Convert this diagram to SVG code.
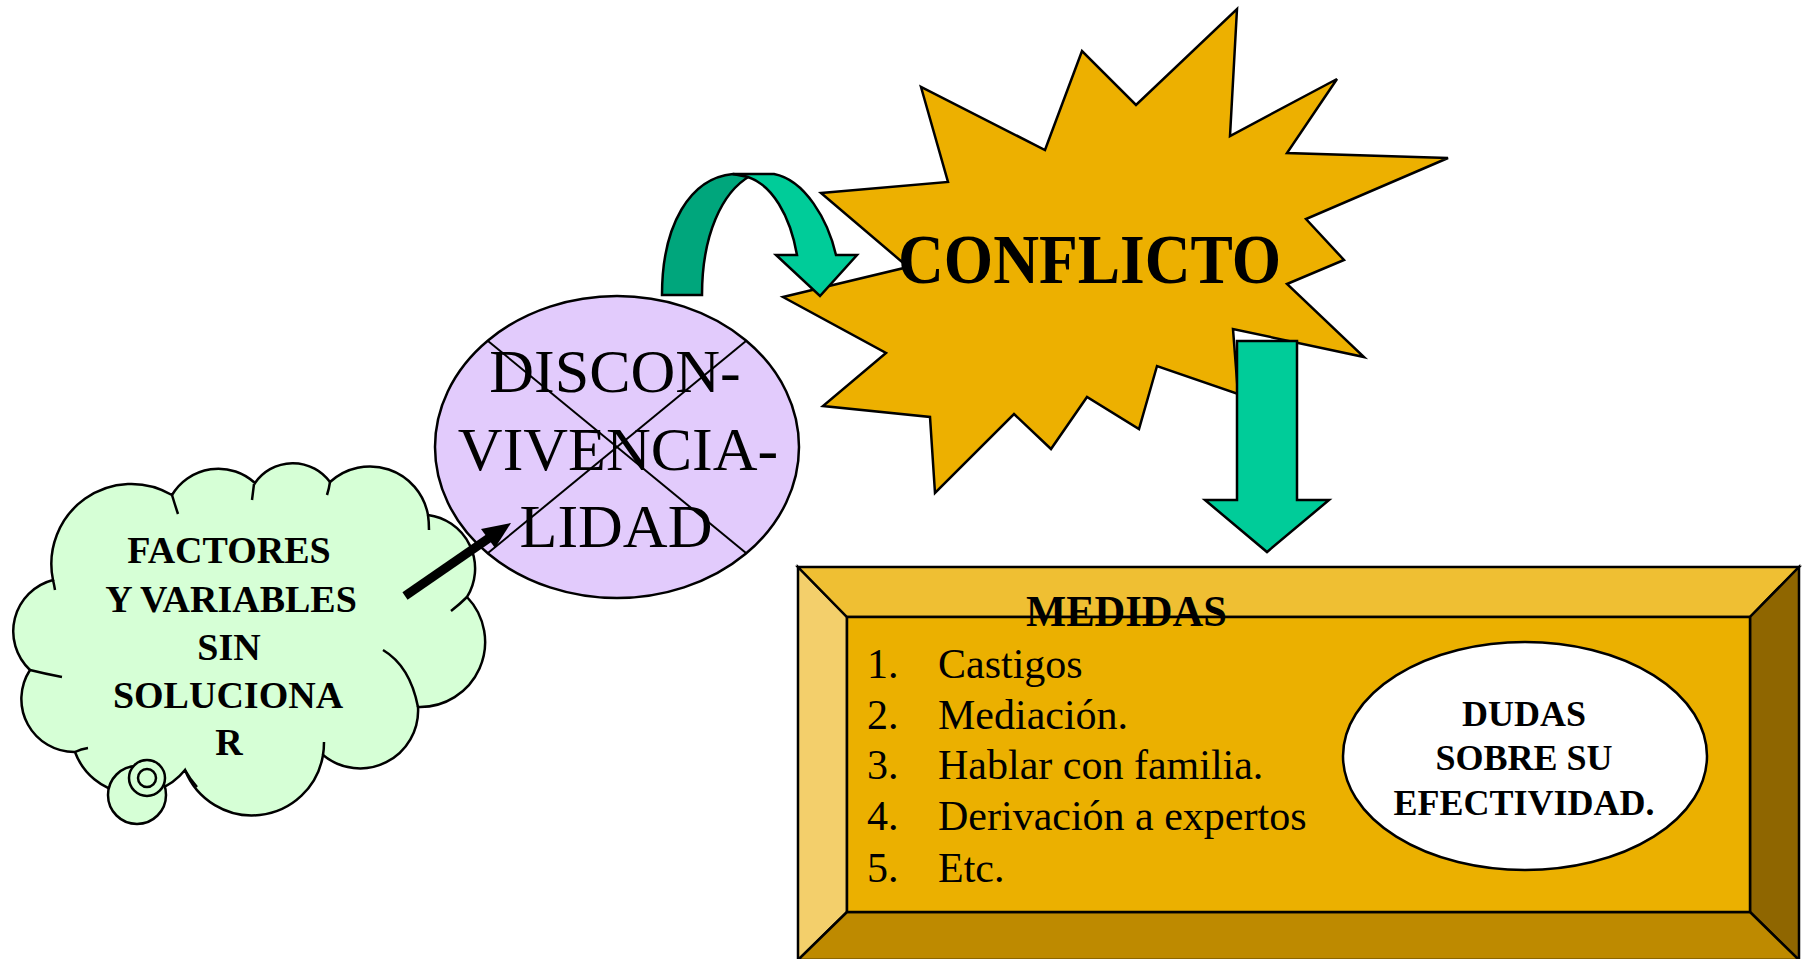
<svg xmlns="http://www.w3.org/2000/svg" width="1805" height="959" viewBox="0 0 1805 959">
<style>
.stk{stroke:#000;stroke-width:2.5;stroke-linejoin:miter}
.serif{font-family:"Liberation Serif","Times New Roman",serif;fill:#000}
.b{font-weight:bold}
.mid{text-anchor:middle}
</style>
<rect width="1805" height="959" fill="#fff"/>

<g id="cloud">
<path class="stk" fill="#D6FFD6" d="M53,580 A80,80 0 0 1 172,495 A54,54 0 0 1 255,483 A46,46 0 0 1 330,482 A59,59 0 0 1 428,515 A54,54 0 0 1 467,597 A65,65 0 0 1 418,707 A58,58 0 0 1 323,755 A72,72 0 0 1 185,770 A64,64 0 0 1 75,752 A53,53 0 0 1 30,670 A53,53 0 0 1 53,580 Z"/>
<g fill="none" stroke="#000" stroke-width="2.5">
<path d="M172,495 Q175,505 178,514"/>
<path d="M254,484 Q253,492 252,500"/>
<path d="M330,482 Q329,489 327,495"/>
<path d="M428,515 Q429,522 429,530"/>
<path d="M467,597 Q460,604 451,611"/>
<path d="M383,650 Q410,666 418,707"/>
<path d="M323,755 Q324,749 324,742"/>
<path d="M185,770 Q190,779 197,787"/>
<path d="M75,752 Q81,749 88,748"/>
<path d="M30,670 Q46,674 62,677"/>
<path d="M53,580 Q54,584 55,590"/>
</g>
<circle class="stk" fill="#D6FFD6" cx="137" cy="795" r="29"/>
<circle class="stk" fill="#D6FFD6" cx="147" cy="778" r="18"/>
<circle class="stk" fill="#D6FFD6" cx="147" cy="778" r="9"/>
<g class="serif b mid" font-size="38">
<text x="229" y="563">FACTORES</text>
<text x="231" y="612">Y VARIABLES</text>
<text x="229" y="660">SIN</text>
<text x="228" y="708">SOLUCIONA</text>
<text x="229" y="755">R</text>
</g>
</g>

<g id="disconvivencialidad">
<ellipse class="stk" fill="#E2CBFC" cx="617" cy="447" rx="182" ry="151"/>
<g stroke="#000" stroke-width="2">
<line x1="488" y1="341" x2="746" y2="553"/>
<line x1="746" y1="341" x2="488" y2="553"/>
</g>
<g class="serif mid" font-size="62">
<text x="615" y="392">DISCON-</text>
<text x="618" y="470">VIVENCIA-</text>
<text x="616" y="547">LIDAD</text>
</g>
</g>

<g id="conflicto">
<polygon class="stk" fill="#EDB000" points="1237,9 1230,136 1337,79 1287,153 1448,158 1306,219 1344,260 1287,284 1364,357 1233,329 1238,394 1157,366 1139,429 1087,397 1051,449 1014,414 935,493 930,417 823,406 886,353 783,297 908,267 821,193 948,182 921,87 1045,150 1082,51 1136,105"/>
<text class="serif b" x="898" y="283" font-size="70" textLength="383" lengthAdjust="spacingAndGlyphs">CONFLICTO</text>
</g>

<g id="medidas">
<polygon class="stk" fill="#F3CF6B" points="798,567 847,617 847,912 798,960"/>
<polygon class="stk" fill="#EFBF33" points="798,567 1799,567 1750,617 847,617"/>
<polygon class="stk" fill="#8F6600" points="1799,567 1799,960 1750,912 1750,617"/>
<polygon class="stk" fill="#BE8A00" points="798,960 847,912 1750,912 1799,960"/>
<rect class="stk" fill="#EBB000" x="847" y="617" width="903" height="295"/>
<text class="serif b" x="1026" y="626" font-size="44" textLength="201" lengthAdjust="spacingAndGlyphs">MEDIDAS</text>
<g class="serif" font-size="42">
<text x="867" y="678">1.</text><text x="938" y="678">Castigos</text>
<text x="867" y="729">2.</text><text x="938" y="729">Mediación.</text>
<text x="867" y="779">3.</text><text x="938" y="779">Hablar con familia.</text>
<text x="867" y="830">4.</text><text x="938" y="830">Derivación a expertos</text>
<text x="867" y="882">5.</text><text x="938" y="882">Etc.</text>
</g>
</g>

<g id="dudas">
<ellipse class="stk" fill="#FFFFFF" cx="1525" cy="756" rx="182" ry="114"/>
<g class="serif b mid" font-size="36">
<text x="1524" y="726">DUDAS</text>
<text x="1524" y="770">SOBRE SU</text>
<text x="1524" y="815">EFECTIVIDAD.</text>
</g>
</g>

<g id="connectors">
<path class="stk" fill="#00A67C" d="M662,295 C662,225 690,178 733,174 L750,176 C722,192 702,235 702,295 Z"/>
<path class="stk" fill="#00CC99" d="M733,174 L774,174 C805,180 828,220 836,255 L857,255 L820,296 L776,255 L797,255 C790,215 772,185 748,177 Z"/>
<polygon class="stk" fill="#00CC99" points="1237,341 1297,341 1297,500 1329,500 1267,552 1205,500 1237,500"/>
<line x1="405" y1="596" x2="492" y2="536" stroke="#000" stroke-width="9"/>
<polygon fill="#000" points="511,523 495,548 481,529"/>
</g>
</svg>
